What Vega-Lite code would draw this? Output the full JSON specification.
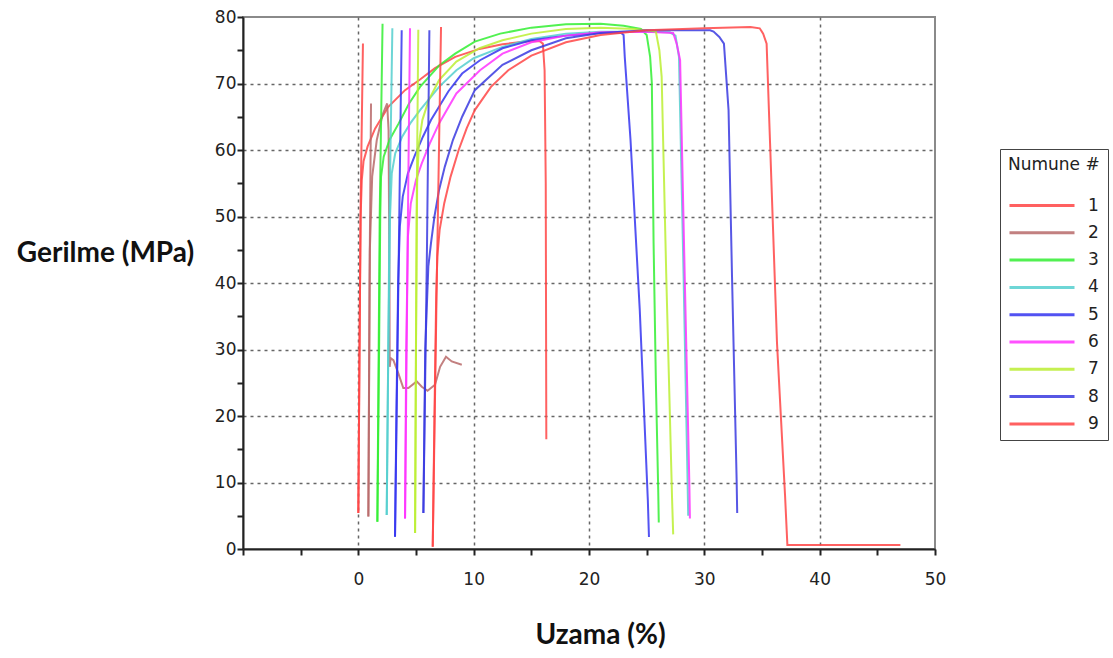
{
  "$schema": "https://vega.github.io/schema/vega-lite/v6.json",
  "autosize": {"type": "none"},
  "padding": {"left": 243, "top": 17, "right": 178, "bottom": 109},
  "width": 692,
  "height": 532,
  "background": "white",
  "view": {"stroke": "#8a8a8a", "strokeWidth": 2},
  "datasets": {
    "curves": [
      {"s":"1","g":"1a","x":0.0,"y":5.4},{"s":"1","g":"1a","x":0.2,"y":52},{"s":"1","g":"1a","x":0.4,"y":76},
      {"s":"1","g":"1b","x":0.0,"y":5.4},{"s":"1","g":"1b","x":0.1,"y":30},{"s":"1","g":"1b","x":0.2,"y":50},{"s":"1","g":"1b","x":0.3,"y":55.5},{"s":"1","g":"1b","x":0.45,"y":58.3},{"s":"1","g":"1b","x":0.8,"y":60.5},{"s":"1","g":"1b","x":1.45,"y":63.2},{"s":"1","g":"1b","x":2.6,"y":66.5},{"s":"1","g":"1b","x":4.05,"y":69},{"s":"1","g":"1b","x":5.35,"y":70.6},{"s":"1","g":"1b","x":6.65,"y":72.3},{"s":"1","g":"1b","x":8.4,"y":74},{"s":"1","g":"1b","x":10.5,"y":75.2},{"s":"1","g":"1b","x":12.5,"y":75.9},{"s":"1","g":"1b","x":14.5,"y":76.3},{"s":"1","g":"1b","x":15.7,"y":76.4},{"s":"1","g":"1b","x":16.0,"y":76},{"s":"1","g":"1b","x":16.15,"y":72},{"s":"1","g":"1b","x":16.25,"y":55},{"s":"1","g":"1b","x":16.3,"y":16.5},
      {"s":"2","g":"2a","x":0.87,"y":4.9},{"s":"2","g":"2a","x":0.97,"y":40},{"s":"2","g":"2a","x":1.1,"y":67},
      {"s":"2","g":"2b","x":0.87,"y":4.9},{"s":"2","g":"2b","x":1.0,"y":45},{"s":"2","g":"2b","x":1.2,"y":56},{"s":"2","g":"2b","x":1.6,"y":61.5},{"s":"2","g":"2b","x":2.1,"y":65.3},{"s":"2","g":"2b","x":2.5,"y":67},{"s":"2","g":"2b","x":2.62,"y":63},{"s":"2","g":"2b","x":2.7,"y":40},{"s":"2","g":"2b","x":2.72,"y":27.4},{"s":"2","g":"2b","x":2.8,"y":28.7},{"s":"2","g":"2b","x":3.04,"y":28.4},{"s":"2","g":"2b","x":3.47,"y":26.4},{"s":"2","g":"2b","x":3.9,"y":24.2},{"s":"2","g":"2b","x":4.34,"y":24.2},{"s":"2","g":"2b","x":5.06,"y":25.2},{"s":"2","g":"2b","x":5.5,"y":24.4},{"s":"2","g":"2b","x":6.0,"y":23.8},{"s":"2","g":"2b","x":6.65,"y":24.7},{"s":"2","g":"2b","x":7.09,"y":27.4},{"s":"2","g":"2b","x":7.6,"y":28.9},{"s":"2","g":"2b","x":8.1,"y":28.2},{"s":"2","g":"2b","x":8.97,"y":27.7},
      {"s":"3","g":"3a","x":1.65,"y":4.1},{"s":"3","g":"3a","x":1.85,"y":50},{"s":"3","g":"3a","x":2.1,"y":79},
      {"s":"3","g":"3b","x":1.65,"y":4.1},{"s":"3","g":"3b","x":1.8,"y":30},{"s":"3","g":"3b","x":1.9,"y":50},{"s":"3","g":"3b","x":1.97,"y":56},{"s":"3","g":"3b","x":2.2,"y":59},{"s":"3","g":"3b","x":2.7,"y":61.5},{"s":"3","g":"3b","x":3.5,"y":64},{"s":"3","g":"3b","x":4.4,"y":67},{"s":"3","g":"3b","x":5.35,"y":69.5},{"s":"3","g":"3b","x":7,"y":72.7},{"s":"3","g":"3b","x":8.4,"y":74.5},{"s":"3","g":"3b","x":10.1,"y":76.3},{"s":"3","g":"3b","x":12.3,"y":77.5},{"s":"3","g":"3b","x":15,"y":78.4},{"s":"3","g":"3b","x":18,"y":78.9},{"s":"3","g":"3b","x":21,"y":79},{"s":"3","g":"3b","x":23,"y":78.7},{"s":"3","g":"3b","x":24.5,"y":78.2},{"s":"3","g":"3b","x":25.0,"y":77.3},{"s":"3","g":"3b","x":25.3,"y":74},{"s":"3","g":"3b","x":25.45,"y":70},{"s":"3","g":"3b","x":25.6,"y":46},{"s":"3","g":"3b","x":25.8,"y":25},{"s":"3","g":"3b","x":26.0,"y":9},{"s":"3","g":"3b","x":26.05,"y":4},
      {"s":"4","g":"4a","x":2.46,"y":5.1},{"s":"4","g":"4a","x":2.7,"y":50},{"s":"4","g":"4a","x":2.95,"y":78.3},
      {"s":"4","g":"4b","x":2.46,"y":5.1},{"s":"4","g":"4b","x":2.6,"y":30},{"s":"4","g":"4b","x":2.75,"y":50},{"s":"4","g":"4b","x":2.9,"y":56.5},{"s":"4","g":"4b","x":3.2,"y":59.5},{"s":"4","g":"4b","x":3.8,"y":62},{"s":"4","g":"4b","x":4.5,"y":64},{"s":"4","g":"4b","x":5.35,"y":66},{"s":"4","g":"4b","x":7,"y":69.5},{"s":"4","g":"4b","x":8.5,"y":72},{"s":"4","g":"4b","x":10,"y":73.8},{"s":"4","g":"4b","x":12.5,"y":75.5},{"s":"4","g":"4b","x":15,"y":76.7},{"s":"4","g":"4b","x":18,"y":77.5},{"s":"4","g":"4b","x":21,"y":77.8},{"s":"4","g":"4b","x":25,"y":77.8},{"s":"4","g":"4b","x":27,"y":77.7},{"s":"4","g":"4b","x":27.5,"y":77.2},{"s":"4","g":"4b","x":27.8,"y":74},{"s":"4","g":"4b","x":28.2,"y":41},{"s":"4","g":"4b","x":28.55,"y":9.9},{"s":"4","g":"4b","x":28.6,"y":5},
      {"s":"5","g":"5a","x":3.18,"y":1.85},{"s":"5","g":"5a","x":3.55,"y":50},{"s":"5","g":"5a","x":3.76,"y":78},
      {"s":"5","g":"5b","x":3.18,"y":1.85},{"s":"5","g":"5b","x":3.3,"y":20},{"s":"5","g":"5b","x":3.45,"y":40},{"s":"5","g":"5b","x":3.6,"y":48.5},{"s":"5","g":"5b","x":3.85,"y":53},{"s":"5","g":"5b","x":4.3,"y":56.5},{"s":"5","g":"5b","x":4.9,"y":59.2},{"s":"5","g":"5b","x":5.6,"y":62},{"s":"5","g":"5b","x":6.3,"y":64.5},{"s":"5","g":"5b","x":7.8,"y":68.8},{"s":"5","g":"5b","x":9,"y":71.5},{"s":"5","g":"5b","x":10.55,"y":73.5},{"s":"5","g":"5b","x":12.5,"y":75.3},{"s":"5","g":"5b","x":15,"y":76.5},{"s":"5","g":"5b","x":18,"y":77.2},{"s":"5","g":"5b","x":21,"y":77.6},{"s":"5","g":"5b","x":22.8,"y":77.6},{"s":"5","g":"5b","x":23.0,"y":77.3},{"s":"5","g":"5b","x":23.1,"y":74},{"s":"5","g":"5b","x":23.6,"y":61.5},{"s":"5","g":"5b","x":24.4,"y":36},{"s":"5","g":"5b","x":25.1,"y":7.4},{"s":"5","g":"5b","x":25.2,"y":1.8},
      {"s":"6","g":"6a","x":4.05,"y":4.6},{"s":"6","g":"6a","x":4.3,"y":50},{"s":"6","g":"6a","x":4.48,"y":78.3},
      {"s":"6","g":"6b","x":4.05,"y":4.6},{"s":"6","g":"6b","x":4.15,"y":30},{"s":"6","g":"6b","x":4.3,"y":47},{"s":"6","g":"6b","x":4.55,"y":52},{"s":"6","g":"6b","x":5.0,"y":55.5},{"s":"6","g":"6b","x":5.5,"y":58},{"s":"6","g":"6b","x":6.2,"y":61},{"s":"6","g":"6b","x":7,"y":64},{"s":"6","g":"6b","x":8.5,"y":68.5},{"s":"6","g":"6b","x":10.55,"y":72},{"s":"6","g":"6b","x":12.5,"y":74.5},{"s":"6","g":"6b","x":15,"y":76.2},{"s":"6","g":"6b","x":18,"y":77.2},{"s":"6","g":"6b","x":21,"y":77.7},{"s":"6","g":"6b","x":25,"y":77.8},{"s":"6","g":"6b","x":27.3,"y":77.6},{"s":"6","g":"6b","x":27.6,"y":76},{"s":"6","g":"6b","x":27.9,"y":73.5},{"s":"6","g":"6b","x":28.3,"y":41},{"s":"6","g":"6b","x":28.7,"y":9.9},{"s":"6","g":"6b","x":28.75,"y":4.6},
      {"s":"7","g":"7a","x":4.92,"y":2.4},{"s":"7","g":"7a","x":5.05,"y":50},{"s":"7","g":"7a","x":5.2,"y":78.1},
      {"s":"7","g":"7b","x":4.92,"y":2.4},{"s":"7","g":"7b","x":5.0,"y":30},{"s":"7","g":"7b","x":5.1,"y":55},{"s":"7","g":"7b","x":5.25,"y":61},{"s":"7","g":"7b","x":5.55,"y":64.5},{"s":"7","g":"7b","x":6.1,"y":67.5},{"s":"7","g":"7b","x":7,"y":70.5},{"s":"7","g":"7b","x":8.5,"y":73.3},{"s":"7","g":"7b","x":10.5,"y":75.3},{"s":"7","g":"7b","x":12.5,"y":76.5},{"s":"7","g":"7b","x":15,"y":77.5},{"s":"7","g":"7b","x":18,"y":78.2},{"s":"7","g":"7b","x":21,"y":78.4},{"s":"7","g":"7b","x":24,"y":78.2},{"s":"7","g":"7b","x":25.8,"y":77.8},{"s":"7","g":"7b","x":26.1,"y":75},{"s":"7","g":"7b","x":26.3,"y":71},{"s":"7","g":"7b","x":26.7,"y":41},{"s":"7","g":"7b","x":27.2,"y":7.7},{"s":"7","g":"7b","x":27.3,"y":2.2},
      {"s":"8","g":"8a","x":5.64,"y":5.4},{"s":"8","g":"8a","x":5.95,"y":45},{"s":"8","g":"8a","x":6.16,"y":78},
      {"s":"8","g":"8b","x":5.64,"y":5.4},{"s":"8","g":"8b","x":5.8,"y":30},{"s":"8","g":"8b","x":6.07,"y":42.5},{"s":"8","g":"8b","x":6.3,"y":46},{"s":"8","g":"8b","x":6.6,"y":50},{"s":"8","g":"8b","x":7.0,"y":54},{"s":"8","g":"8b","x":7.5,"y":57.5},{"s":"8","g":"8b","x":8.2,"y":61.5},{"s":"8","g":"8b","x":9,"y":65},{"s":"8","g":"8b","x":10.1,"y":69},{"s":"8","g":"8b","x":12.5,"y":72.8},{"s":"8","g":"8b","x":15,"y":75},{"s":"8","g":"8b","x":18,"y":76.8},{"s":"8","g":"8b","x":21,"y":77.6},{"s":"8","g":"8b","x":25,"y":78},{"s":"8","g":"8b","x":30.5,"y":78},{"s":"8","g":"8b","x":30.8,"y":77.8},{"s":"8","g":"8b","x":31.3,"y":77},{"s":"8","g":"8b","x":31.7,"y":76},{"s":"8","g":"8b","x":32.1,"y":66},{"s":"8","g":"8b","x":32.4,"y":41},{"s":"8","g":"8b","x":32.8,"y":10.4},{"s":"8","g":"8b","x":32.85,"y":5.4},
      {"s":"9","g":"9a","x":6.45,"y":0.35},{"s":"9","g":"9a","x":6.8,"y":40},{"s":"9","g":"9a","x":7.17,"y":78.5},
      {"s":"9","g":"9b","x":6.45,"y":0.35},{"s":"9","g":"9b","x":6.6,"y":20},{"s":"9","g":"9b","x":6.75,"y":38},{"s":"9","g":"9b","x":6.85,"y":44},{"s":"9","g":"9b","x":7.05,"y":48},{"s":"9","g":"9b","x":7.45,"y":52},{"s":"9","g":"9b","x":8.0,"y":56},{"s":"9","g":"9b","x":8.7,"y":60},{"s":"9","g":"9b","x":9.4,"y":63.3},{"s":"9","g":"9b","x":10.1,"y":66},{"s":"9","g":"9b","x":11.5,"y":69.5},{"s":"9","g":"9b","x":13,"y":72},{"s":"9","g":"9b","x":15,"y":74.2},{"s":"9","g":"9b","x":18,"y":76.2},{"s":"9","g":"9b","x":21,"y":77.3},{"s":"9","g":"9b","x":25,"y":78},{"s":"9","g":"9b","x":30,"y":78.3},{"s":"9","g":"9b","x":34,"y":78.5},{"s":"9","g":"9b","x":34.8,"y":78.3},{"s":"9","g":"9b","x":35.1,"y":77.5},{"s":"9","g":"9b","x":35.4,"y":76},{"s":"9","g":"9b","x":35.7,"y":61},{"s":"9","g":"9b","x":36.3,"y":31},{"s":"9","g":"9b","x":37.0,"y":8},{"s":"9","g":"9b","x":37.2,"y":0.6},{"s":"9","g":"9b","x":47,"y":0.6}
    ]
  },
  "data": {"name": "curves"},
  "mark": {"type": "line", "strokeWidth": 2, "opacity": 0.85, "clip": true},
  "encoding": {
    "x": {
      "field": "x", "type": "quantitative",
      "scale": {"domain": [-10, 50], "nice": false, "zero": false},
      "axis": {
        "title": "Uzama (%)",
        "values": [-10, -5, 0, 5, 10, 15, 20, 25, 30, 35, 40, 45, 50],
        "labelExpr": "(datum.value % 10 === 0 && datum.value >= 0) ? datum.label : ''",
        "labelFlush": false, "labelOverlap": false,
        "labelFont": "DejaVu Sans", "labelFontSize": 17, "labelColor": "#222", "labelPadding": 16,
        "tickSize": 6, "tickWidth": 2, "tickColor": "#222",
        "domainColor": "#222", "domainWidth": 2,
        "grid": true,
        "gridColor": "#666", "gridDash": [3, 4], "gridWidth": 1.5,
        "gridOpacity": {"condition": {"test": "datum.value % 10 === 0 && datum.value > -10 && datum.value < 50", "value": 1}, "value": 0},
        "titleFont": "Lato", "titleFontSize": 28, "titleFontWeight": "bold", "titleColor": "#111",
        "titleX": 357, "titleY": 86, "titleBaseline": "middle"
      }
    },
    "y": {
      "field": "y", "type": "quantitative",
      "scale": {"domain": [0, 80], "nice": false},
      "axis": {
        "title": "Gerilme (MPa)",
        "values": [0, 5, 10, 15, 20, 25, 30, 35, 40, 45, 50, 55, 60, 65, 70, 75, 80],
        "labelExpr": "datum.value % 10 === 0 ? datum.label : ''",
        "labelFlush": false, "labelOverlap": false,
        "labelFont": "DejaVu Sans", "labelFontSize": 17, "labelColor": "#222", "labelPadding": 1,
        "tickSize": 6, "tickWidth": 2, "tickColor": "#222",
        "domainColor": "#222", "domainWidth": 2,
        "grid": true,
        "gridColor": "#666", "gridDash": [3, 4], "gridWidth": 1.5,
        "gridOpacity": {"condition": {"test": "datum.value % 10 === 0 && datum.value > 0 && datum.value < 80", "value": 1}, "value": 0},
        "titleFont": "Lato", "titleFontSize": 28, "titleFontWeight": "bold", "titleColor": "#111",
        "titleAngle": 0, "titleX": -138, "titleY": 236, "titleAlign": "center", "titleBaseline": "middle"
      }
    },
    "color": {
      "field": "s", "type": "nominal",
      "scale": {
        "domain": ["1", "2", "3", "4", "5", "6", "7", "8", "9"],
        "range": ["#ff4545", "#b86a6a", "#33ee33", "#55cfcf", "#3535f0", "#ff33ff", "#bbee33", "#3a3ae0", "#ff4545"]
      },
      "legend": {
        "title": "Numune #",
        "orient": "none", "legendX": 757, "legendY": 132,
        "symbolType": "M-1,0H5.5", "symbolSize": 400, "symbolStrokeWidth": 3,
        "strokeColor": "#444", "padding": 8, "fillColor": "white",
        "labelFont": "DejaVu Sans", "labelFontSize": 17, "labelColor": "#222", "labelOffset": 57,
        "titleFont": "DejaVu Sans", "titleFontSize": 17, "titleColor": "#222", "titleFontWeight": "normal",
        "titlePadding": 20, "rowPadding": 7.3
      }
    },
    "detail": {"field": "g"},
    "order": {"value": null}
  }
}
